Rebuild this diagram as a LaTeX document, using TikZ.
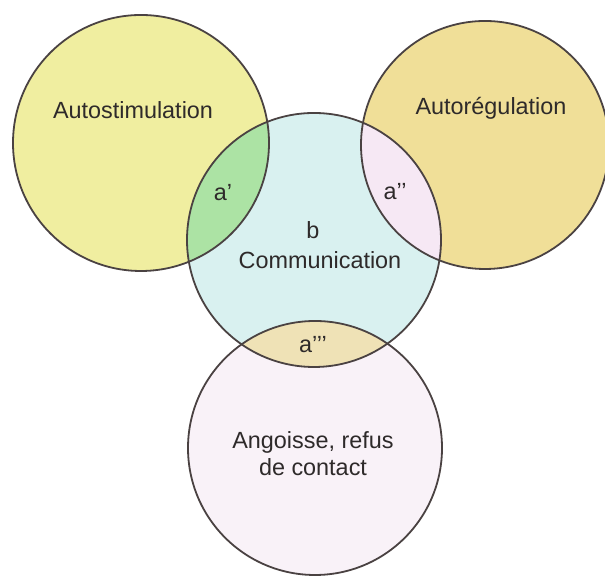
\documentclass[tikz,border=0pt]{standalone}
\usepackage{fontspec}
\setmainfont{Liberation Sans}
\usepackage{tikz}
\usetikzlibrary{positioning}
\usepackage{xcolor}
\definecolor{stimyellow}{HTML}{F0EEA0}
\definecolor{reggold}{HTML}{F0DF98}
\definecolor{commcyan}{HTML}{D9F1F0}
\definecolor{angpink}{HTML}{F9F2F8}
\definecolor{ovgreen}{HTML}{ACE3A4}
\definecolor{ovlilac}{HTML}{F6E8F4}
\definecolor{ovtan}{HTML}{EFE2B6}
\definecolor{rimgray}{HTML}{4A4242}
\definecolor{txtgray}{HTML}{2E2A2A}

\begin{document}
\begin{tikzpicture}[x=0.5pt, y=0.5pt,
  ring/.style={draw=rimgray, line width=0.9pt},
  lbl/.style={font=\fontsize{11.7}{13.5}\selectfont, text=txtgray, inner sep=0pt, align=center}]
  \useasboundingbox (0,0) rectangle (605,576);

  \coordinate (stim) at (141,433);
  \coordinate (reg) at (485,431);
  \coordinate (comm) at (314,336);
  \coordinate (ang) at (315,128);

  % circles
  \fill[stimyellow] (stim) circle (128);
  \fill[reggold] (reg) circle (124);
  \fill[commcyan] (comm) circle (127);
  \fill[angpink] (ang) circle (127);

  % overlaps
  \begin{scope}
    \clip (stim) circle (128);
    \fill[ovgreen] (comm) circle (127);
  \end{scope}
  \begin{scope}
    \clip (reg) circle (124);
    \fill[ovlilac] (comm) circle (127);
  \end{scope}
  \begin{scope}
    \clip (ang) circle (127);
    \fill[ovtan] (comm) circle (127);
  \end{scope}

  % outlines
  \draw[ring] (stim) circle (128);
  \draw[ring] (reg) circle (124);
  \draw[ring] (comm) circle (127);
  \draw[ring] (ang) circle (127);

  % labels
  \node[lbl] (stimtxt) at (133,466) {Autostimulation};
  \node[lbl] (regtxt) at (491,468) {Autorégulation};
  \node[lbl] (aone) at (223,383) {a'};
  \node[lbl] (atwo) at (395,384) {a'{}'};
  \node[lbl] (btxt) at (313,346) {b};
  \node[lbl] (commtxt) at (320,316) {Communication};
  \node[lbl] (athree) at (313,231) {a'{}'{}'};
  \node[lbl] (angtxt) at (313,122) {Angoisse, refus\\de contact};
\end{tikzpicture}
\end{document}
